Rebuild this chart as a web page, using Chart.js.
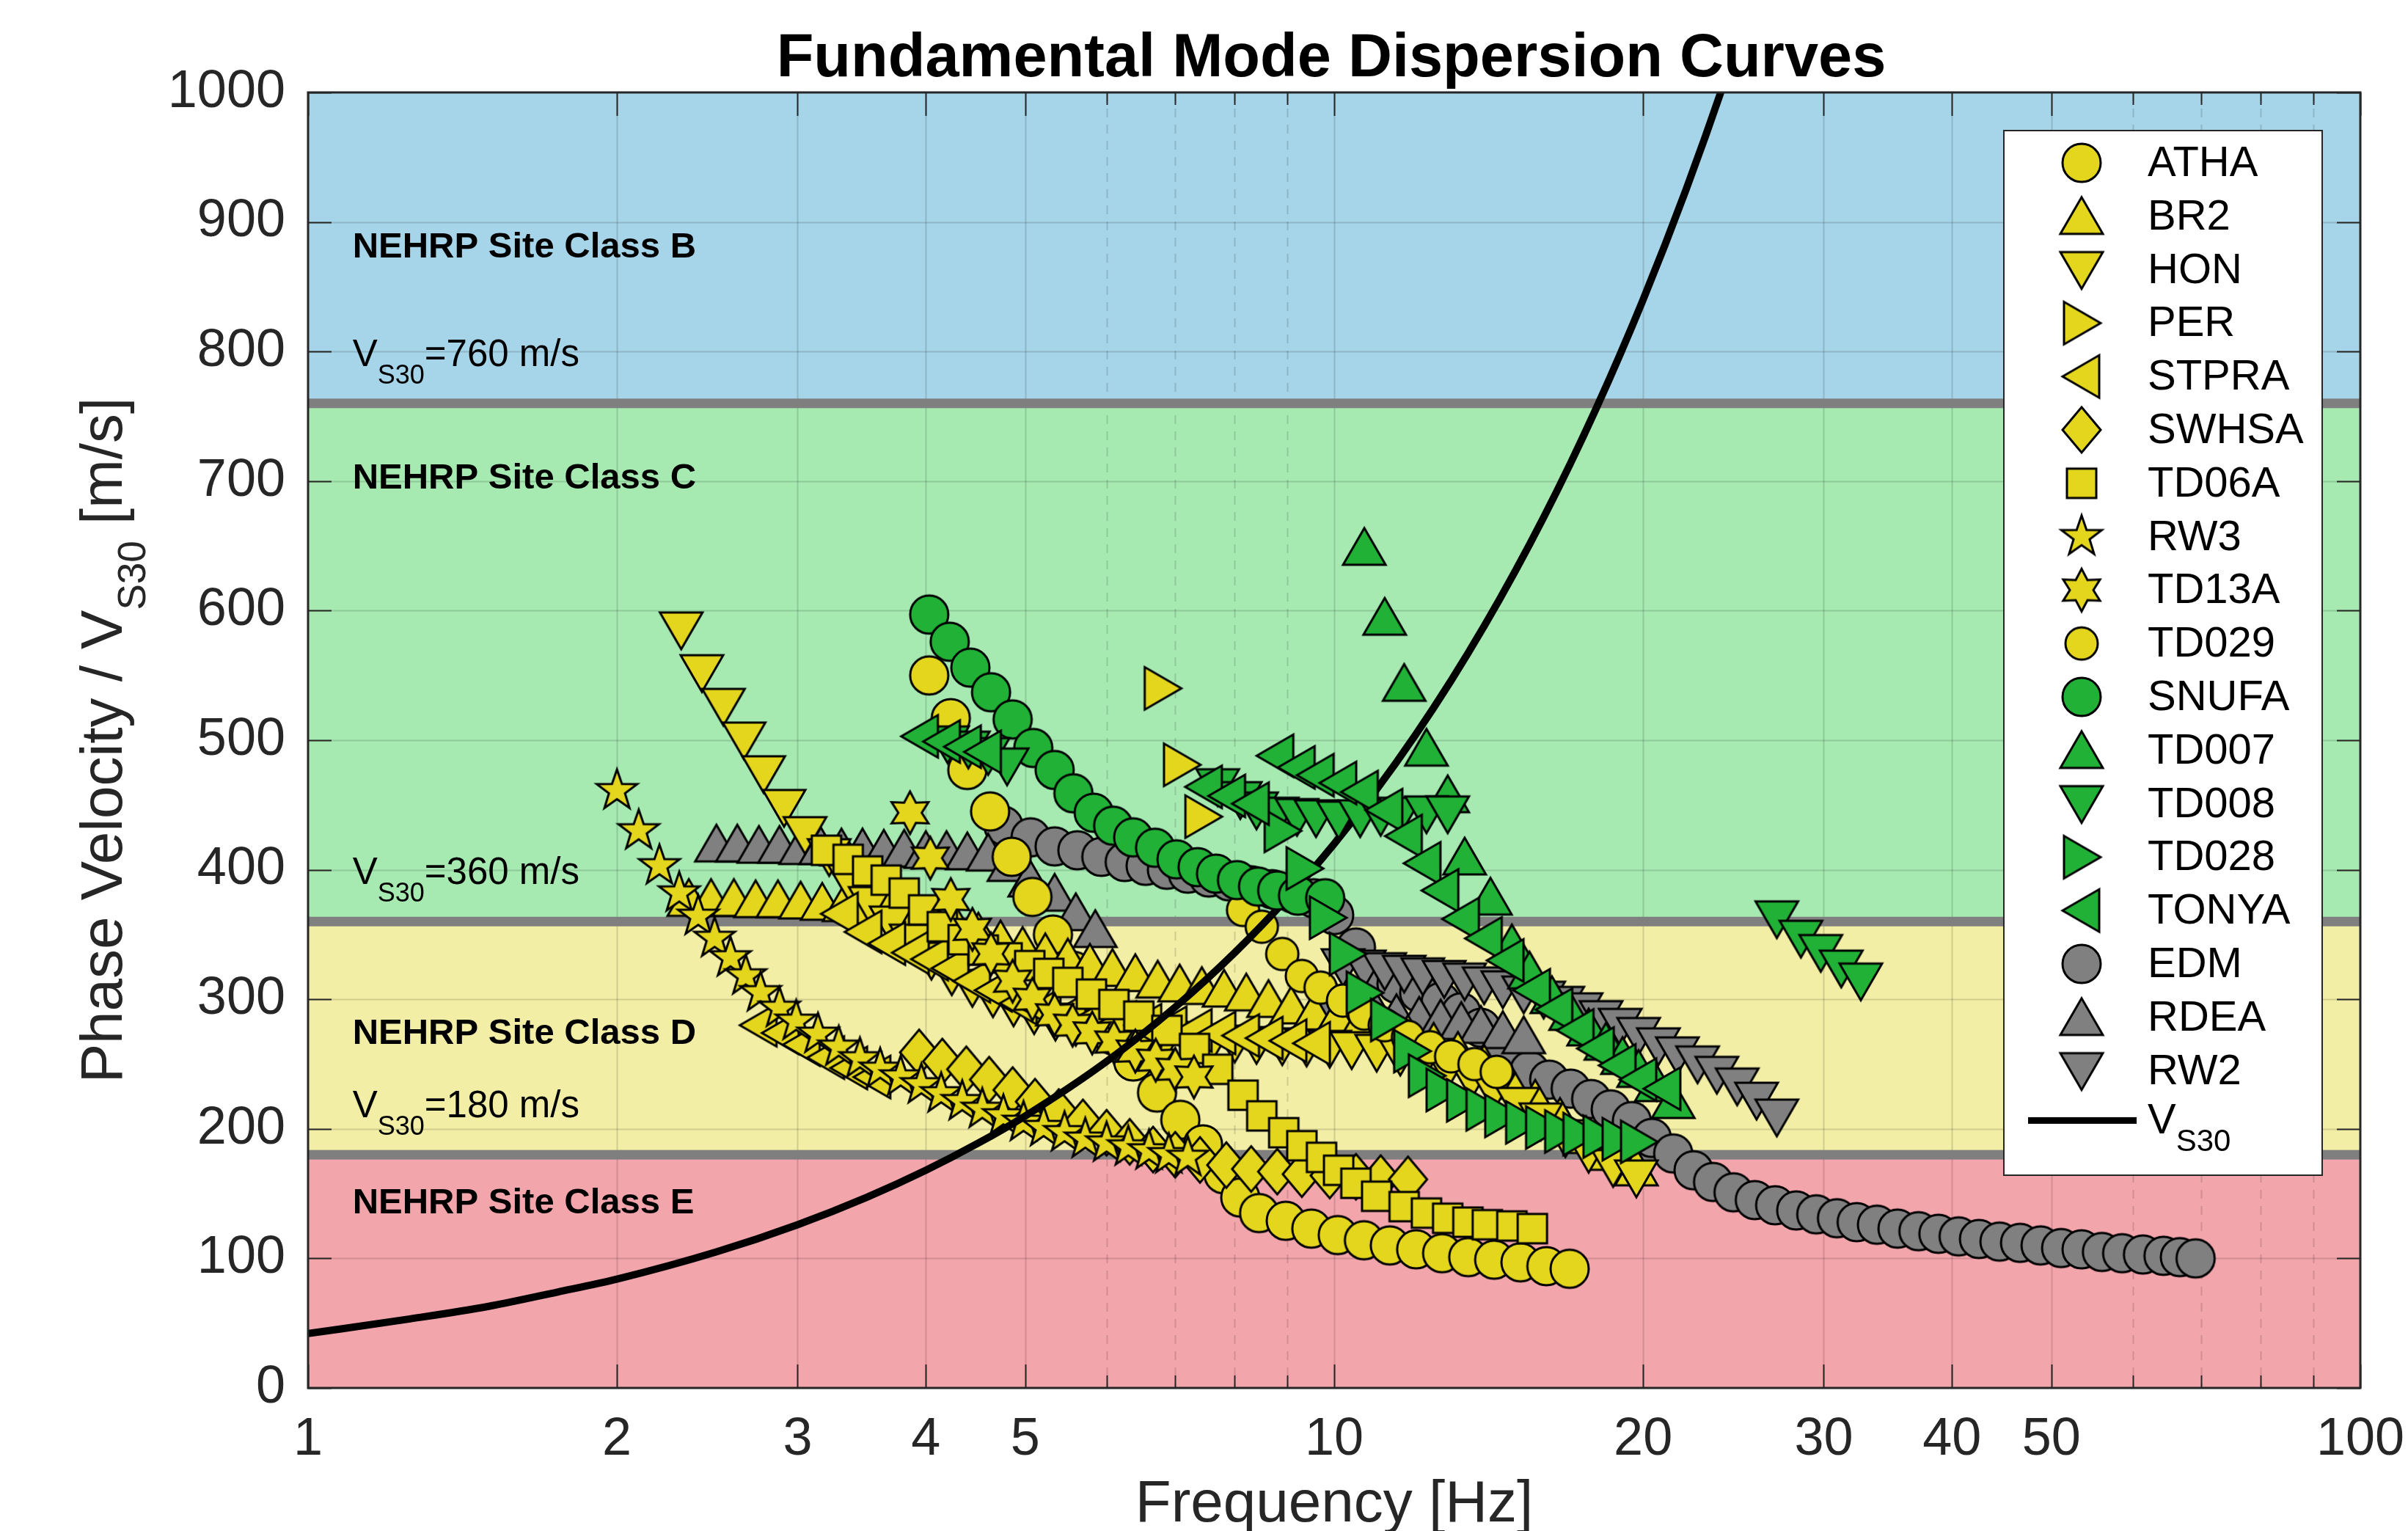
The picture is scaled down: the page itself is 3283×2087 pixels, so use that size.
<!DOCTYPE html>
<html>
<head>
<meta charset="utf-8">
<script src="https://cdn.jsdelivr.net/npm/chart.js@4.4.1/dist/chart.umd.min.js"></script>
<style>
html, body { margin: 0; padding: 0; background: #fff; }
</style>
</head>
<body>
<canvas id="chart" width="3283" height="2087"></canvas>
<script>
// axis ticks and site class limits
var freqTicks = [1, 2, 3, 4, 5, 10, 20, 30, 40, 50, 100];
var minorTicks = [6, 7, 8, 9, 60, 70, 80, 90];
var velTicks = [0, 100, 200, 300, 400, 500, 600, 700, 800, 900, 1000];
var classLimits = [180, 360, 760];
var classNames = ['NEHRP Site Class E', 'NEHRP Site Class D', 'NEHRP Site Class C', 'NEHRP Site Class B'];

// dispersion curves, frequency [Hz] / phase velocity [m/s]
var athaF = [4.03, 4.23, 4.39, 4.62, 4.85, 5.08, 5.32, 5.57, 5.83, 6.10, 6.37, 6.72, 7.08, 7.45, 7.80, 8.10, 8.45, 8.97, 9.50, 10.08, 10.69, 11.33, 12.02, 12.74, 13.51, 14.32, 15.19, 16.10, 16.96];
var athaV = [550, 517, 477, 445, 410, 379, 350, 322, 296, 272, 252, 228, 207, 188, 165, 147, 135, 129, 123, 118, 114, 110, 107, 104, 101, 99, 97, 94, 92];
var br2F = [2.35, 2.47, 2.6, 2.73, 2.87, 3.02, 3.17, 3.33, 3.5, 3.68, 3.87, 4.07, 4.28, 4.5, 4.73, 4.97, 5.23, 5.5, 5.78, 6.08, 6.4, 6.73, 7.07, 7.43, 7.81, 8.21, 8.63, 9.08, 9.55, 10.05, 10.6, 11.2, 11.8, 12.5, 13.2, 14.0, 14.8, 15.7, 16.6, 17.6, 18.6, 19.7];
var br2V = [378, 378, 378, 377, 377, 376, 375, 374, 372, 369, 366, 362, 357, 352, 346, 341, 336, 332, 328, 324, 320, 315, 312, 310, 308, 305, 300, 295, 290, 286, 282, 278, 273, 267, 260, 250, 237, 223, 209, 195, 182, 170];
var honF = [2.31, 2.42, 2.54, 2.66, 2.78, 2.91, 3.05, 3.22, 3.37, 3.53, 3.70, 3.87, 4.05, 4.24, 4.44, 4.65, 4.87, 5.10, 5.35, 5.60, 5.90, 6.20, 6.50, 6.85, 7.20, 7.60, 8.00, 8.40, 8.90, 9.40, 9.90, 10.4, 11.0, 11.6, 12.2, 12.9, 13.6, 14.3, 15.1, 15.9, 16.8, 17.7, 18.7, 19.7];
var honV = [585, 552, 526, 500, 474, 448, 427, 410, 390, 373, 358, 344, 330, 318, 309, 301, 294, 288, 283, 279, 276, 273, 271, 269, 268, 267, 266, 265, 264, 263, 262, 261, 259, 256, 252, 246, 238, 229, 218, 206, 193, 181, 170, 162];
var perF = [6.80, 7.10, 7.45];
var perV = [540, 481, 441];
var stpraF = [2.75, 2.89, 3.03, 3.20, 3.37, 3.55, 3.30, 3.48, 3.67, 3.87, 4.04, 4.23, 4.44, 4.66, 4.93, 5.20, 5.50, 5.82, 6.16, 6.52, 6.90, 7.30, 7.70, 8.12, 8.56, 9.03, 9.52];
var stpraV = [280, 274, 265, 255, 247, 240, 366, 352, 343, 336, 331, 324, 314, 307, 297, 292, 288, 285, 282, 280, 278, 276, 274, 272, 270, 268, 266];
var swhsaF = [3.94, 4.15, 4.38, 4.61, 4.86, 5.11, 5.39, 5.69, 6.00, 6.32, 6.66, 7.00, 7.40, 7.85, 8.30, 8.80, 9.30, 9.90, 10.5, 11.1, 11.8];
var swhsaV = [259, 252, 246, 238, 230, 221, 213, 205, 197, 190, 184, 180, 176, 172, 169, 167, 165, 164, 163, 162, 161];
var td06aF = [3.2, 3.36, 3.51, 3.66, 3.81, 3.98, 4.15, 4.35, 4.55, 4.8, 5.05, 5.27, 5.5, 5.8, 6.1, 6.45, 6.87, 7.31, 7.7, 8.15, 8.5, 8.93, 9.3, 9.72, 10.1, 10.5, 11.0, 11.7, 12.3, 12.9, 13.5, 14.1, 14.9, 15.6];
var td06aV = [415, 408, 399, 392, 382, 369, 356, 346, 338, 332, 326, 320, 313, 304, 296, 287, 276, 262, 246, 226, 210, 197, 187, 178, 168, 158, 148, 140, 135, 131, 128, 126, 125, 123];
var rw3F = [2.0, 2.1, 2.2, 2.3, 2.4, 2.49, 2.58, 2.67, 2.76, 2.88, 2.99, 3.14, 3.29, 3.45, 3.61, 3.78, 3.96, 4.14, 4.34, 4.54, 4.76, 4.98, 5.21, 5.46, 5.72, 6.0, 6.3, 6.6, 6.9, 7.2];
var rw3V = [461, 430, 403, 382, 364, 347, 332, 318, 305, 293, 283, 273, 263, 254, 246, 240, 234, 227, 221, 215, 210, 205, 201, 197, 192, 189, 186, 183, 180, 178];
var td13aF = [3.86, 4.04, 4.23, 4.44, 4.63, 4.86, 5.08, 5.34, 5.56, 5.81, 6.10, 6.40, 6.70, 7.00, 7.30];
var td13aV = [444, 409, 377, 354, 335, 314, 300, 288, 280, 274, 267, 260, 253, 246, 240];
var td029F = [8.15, 8.50, 8.90, 9.30, 9.70, 10.2, 10.7, 11.2, 11.8, 12.4, 13.0, 13.7, 14.4];
var td029V = [369, 356, 335, 318, 309, 299, 289, 280, 271, 263, 256, 250, 244];
var snufaF = [4.03, 4.22, 4.42, 4.63, 4.86, 5.09, 5.34, 5.57, 5.83, 6.09, 6.37, 6.69, 7.02, 7.36, 7.67, 8.04, 8.43, 8.80, 9.22, 9.80];
var snufaV = [597, 576, 556, 537, 516, 494, 477, 459, 444, 434, 425, 417, 408, 402, 397, 392, 387, 384, 380, 378];
var td007F = [10.7, 11.2, 11.7, 12.3, 12.9, 13.4, 14.2, 14.9, 15.5, 16.3, 17.0, 17.7, 18.4, 19.1, 19.8, 20.6, 21.4];
var td007V = [649, 595, 544, 494, 458, 410, 379, 343, 322, 303, 290, 278, 267, 256, 246, 235, 222];
var td008F = [4.20, 4.40, 4.60, 4.80, 7.70, 8.10, 8.40, 8.80, 9.20, 9.60, 10.1, 10.6, 11.1, 11.6, 12.3, 12.9, 27.0, 28.5, 29.8, 31.2, 32.6];
var td008V = [497, 493, 488, 480, 464, 454, 446, 442, 441, 440, 439, 440, 441, 442, 443, 443, 362, 347, 336, 324, 314];
var td028F = [8.90, 9.35, 9.85, 10.3, 10.7, 11.3, 11.9, 12.3, 12.8, 13.4, 14.0, 14.6, 15.3, 16.0, 16.7, 17.4, 18.2, 19.0, 19.8];
var td028V = [430, 401, 363, 335, 305, 284, 260, 241, 230, 222, 215, 210, 205, 201, 198, 196, 194, 192, 190];
var tonyaF = [3.95, 4.15, 4.35, 4.55, 7.47, 7.87, 8.30, 8.77, 9.20, 9.60, 10.1, 10.6, 11.2, 11.7, 12.2, 12.7, 13.3, 14.0, 14.7, 15.6, 16.4, 17.2, 18.0, 18.9, 19.8, 20.9];
var tonyaV = [503, 499, 495, 491, 464, 457, 451, 488, 479, 473, 467, 460, 446, 426, 405, 384, 362, 347, 330, 307, 292, 276, 262, 249, 238, 231];
var edmF = [4.76, 5.06, 5.34, 5.62, 5.93, 6.25, 6.55, 6.87, 7.20, 7.55, 7.90, 8.30, 8.70, 9.10, 9.55, 10.0, 10.5, 11.0, 11.5, 12.1, 12.7, 13.3, 13.9, 14.6, 15.5, 16.2, 17.0, 17.8, 18.6, 19.5, 20.4, 21.4, 22.4, 23.4, 24.5, 25.7, 26.9, 28.2, 29.5, 30.9, 32.3, 33.8, 35.4, 37.1, 38.8, 40.6, 42.5, 44.5, 46.6, 48.8, 51.1, 53.5, 56.0, 58.6, 61.4, 64.3, 66.7, 69.1];
var edmV = [434, 425, 418, 415, 410, 406, 403, 400, 397, 394, 391, 388, 385, 382, 378, 365, 340, 322, 312, 305, 298, 290, 278, 262, 245, 238, 231, 223, 215, 206, 193, 181, 168, 159, 151, 145, 141, 137, 134, 131, 128, 126, 123, 121, 119, 117, 115, 113, 112, 110, 108, 107, 105, 104, 103, 102, 101, 100];
var rdeaF = [2.50, 2.62, 2.75, 2.88, 3.02, 3.16, 3.31, 3.47, 3.64, 3.81, 4.00, 4.19, 4.39, 4.60, 4.82, 5.05, 5.34, 5.60, 5.85, 10.0, 10.5, 11.0, 11.5, 12.1, 12.7, 13.3, 13.9, 14.6, 15.3];
var rdeaV = [420, 420, 419, 419, 418, 418, 417, 417, 416, 416, 415, 415, 414, 413, 405, 393, 382, 367, 354, 300, 292, 290, 289, 287, 285, 283, 280, 276, 272];
var rw2F = [10.2, 10.7, 11.2, 11.7, 12.2, 12.8, 13.4, 14.0, 14.6, 15.3, 16.0, 16.7, 17.4, 18.2, 19.0, 19.8, 20.7, 21.6, 22.6, 23.6, 24.7, 25.8, 27.0];
var rw2V = [325, 324, 322, 320, 318, 316, 314, 311, 308, 304, 300, 296, 291, 285, 279, 272, 264, 257, 250, 242, 233, 222, 209];

// VS30 line
var vsF = [1, 1.25, 1.5, 1.75, 2, 2.5, 3, 3.5, 4, 4.5, 5, 6, 7, 8, 9, 10, 11, 12, 13, 14, 15, 16, 17, 18, 19, 20, 21, 22, 23, 24, 25];
var vsV = [42, 53, 63, 74, 84, 105, 126, 147, 168, 189, 210, 252, 294, 336, 378, 420, 462, 504, 546, 588, 630, 672, 714, 756, 798, 840, 882, 924, 966, 1008, 1050];

var FONT = '"Liberation Sans", Arial, Helvetica, sans-serif';
var YEL = '#e4d61d', GRN = '#20b136', GRY = '#808080';
var bandColors = ['#f3a5ac', '#f2eea6', '#a6eab2', '#a6d4e8'];

function makeMarker(shape, fill) {
	var c = document.createElement('canvas');
	c.width = 72; c.height = 72;
	var g = c.getContext('2d');
	g.translate(36, 36);
	g.beginPath();
	var pts = null, n, k, r, a;
	if (shape == 'o') g.arc(0, 0, 26, 0, Math.PI * 2);
	else if (shape == 'os') g.arc(0, 0, 22, 0, Math.PI * 2);
	else if (shape == 's') g.rect(-20, -20, 40, 40);
	else if (shape == 'd') pts = [[0, -31], [26, 0], [0, 31], [-26, 0]];
	else if (shape == '^') pts = [[0, -26], [29, 24], [-29, 24]];
	else if (shape == 'v') pts = [[0, 26], [29, -24], [-29, -24]];
	else if (shape == '>') pts = [[26, 0], [-24, -29], [-24, 29]];
	else if (shape == '<') pts = [[-26, 0], [24, -29], [24, 29]];
	else {
		// 5 or 6 point stars
		n = shape == 'p' ? 5 : 6;
		pts = [];
		for (k = 0; k < 2 * n; k++) {
			r = k % 2 ? (n == 5 ? 11.5 : 16) : 29;
			a = -Math.PI / 2 + k * Math.PI / n;
			pts.push([r * Math.cos(a), r * Math.sin(a)]);
		}
	}
	if (pts) {
		g.moveTo(pts[0][0], pts[0][1]);
		for (k = 1; k < pts.length; k++) g.lineTo(pts[k][0], pts[k][1]);
		g.closePath();
	}
	g.fillStyle = fill;
	g.fill();
	g.lineWidth = 3;
	g.strokeStyle = '#000';
	g.stroke();
	return c;
}

// grp: 3 yellow, 1 green (on top), 4 grey (bottom); later series sit above earlier ones
var series = [
	{name: 'ATHA', f: athaF, v: athaV, shape: 'o', fill: YEL, grp: 3},
	{name: 'BR2', f: br2F, v: br2V, shape: '^', fill: YEL, grp: 3},
	{name: 'HON', f: honF, v: honV, shape: 'v', fill: YEL, grp: 3},
	{name: 'PER', f: perF, v: perV, shape: '>', fill: YEL, grp: 3},
	{name: 'STPRA', f: stpraF, v: stpraV, shape: '<', fill: YEL, grp: 3},
	{name: 'SWHSA', f: swhsaF, v: swhsaV, shape: 'd', fill: YEL, grp: 3},
	{name: 'TD06A', f: td06aF, v: td06aV, shape: 's', fill: YEL, grp: 3},
	{name: 'RW3', f: rw3F, v: rw3V, shape: 'p', fill: YEL, grp: 3},
	{name: 'TD13A', f: td13aF, v: td13aV, shape: 'h', fill: YEL, grp: 3},
	{name: 'TD029', f: td029F, v: td029V, shape: 'os', fill: YEL, grp: 3},
	{name: 'SNUFA', f: snufaF, v: snufaV, shape: 'o', fill: GRN, grp: 1},
	{name: 'TD007', f: td007F, v: td007V, shape: '^', fill: GRN, grp: 1},
	{name: 'TD008', f: td008F, v: td008V, shape: 'v', fill: GRN, grp: 1},
	{name: 'TD028', f: td028F, v: td028V, shape: '>', fill: GRN, grp: 1},
	{name: 'TONYA', f: tonyaF, v: tonyaV, shape: '<', fill: GRN, grp: 1},
	{name: 'EDM', f: edmF, v: edmV, shape: 'o', fill: GRY, grp: 4},
	{name: 'RDEA', f: rdeaF, v: rdeaV, shape: '^', fill: GRY, grp: 4},
	{name: 'RW2', f: rw2F, v: rw2V, shape: 'v', fill: GRY, grp: 4}
];

var datasets = series.map(function (s, i) {
	s.img = makeMarker(s.shape, s.fill);
	return {
		label: s.name,
		data: s.f.map(function (f, j) { return {x: f, y: s.v[j]}; }),
		pointStyle: s.img,
		pointRadius: 26,
		pointHoverRadius: 26,
		order: s.grp + (20 - i) * 0.01
	};
});
datasets.push({
	type: 'line',
	label: 'VS30',
	data: vsF.map(function (f, i) { return {x: f, y: vsV[i]}; }),
	showLine: true,
	borderColor: '#000',
	borderWidth: 10,
	pointRadius: 0,
	cubicInterpolationMode: 'monotone',
	clip: 0,
	order: 2
});

// text with a subscript, left aligned on an alphabetic baseline
function subText(ctx, x, y, main, sub, rest, size, subSize, drop, weight) {
	ctx.textAlign = 'left';
	ctx.textBaseline = 'alphabetic';
	ctx.font = (weight || '') + ' ' + size + 'px ' + FONT;
	ctx.fillText(main, x, y);
	x += ctx.measureText(main).width;
	ctx.font = subSize + 'px ' + FONT;
	ctx.fillText(sub, x, y + drop);
	x += ctx.measureText(sub).width;
	ctx.font = size + 'px ' + FONT;
	if (rest) ctx.fillText(rest, x, y);
}

function subWidth(ctx, main, sub, rest, size, subSize) {
	ctx.font = size + 'px ' + FONT;
	var w = ctx.measureText(main + rest).width;
	ctx.font = subSize + 'px ' + FONT;
	return w + ctx.measureText(sub).width;
}

var frame = {
	id: 'frame',
	beforeDatasetsDraw: function (chart) {
		var ctx = chart.ctx, a = chart.chartArea, xs = chart.scales.x, ys = chart.scales.y;
		var edges = [0].concat(classLimits, [1000]);
		ctx.save();
		for (var i = 0; i < 4; i++) {
			var y0 = ys.getPixelForValue(edges[i]), y1 = ys.getPixelForValue(edges[i + 1]);
			ctx.fillStyle = bandColors[i];
			ctx.fillRect(a.left, y1, a.right - a.left, y0 - y1);
		}
		// grid
		ctx.strokeStyle = 'rgba(0,0,0,0.14)';
		ctx.lineWidth = 2;
		freqTicks.concat(minorTicks).forEach(function (f) {
			if (f == 1 || f == 100) return;
			var px = Math.round(xs.getPixelForValue(f)) + 0.5;
			ctx.setLineDash(minorTicks.indexOf(f) >= 0 ? [12, 10] : []);
			ctx.beginPath(); ctx.moveTo(px, a.top); ctx.lineTo(px, a.bottom); ctx.stroke();
		});
		ctx.setLineDash([]);
		velTicks.forEach(function (v) {
			if (v == 0 || v == 1000) return;
			var py = Math.round(ys.getPixelForValue(v)) + 0.5;
			ctx.beginPath(); ctx.moveTo(a.left, py); ctx.lineTo(a.right, py); ctx.stroke();
		});
		// class boundaries
		ctx.fillStyle = '#7f7f7f';
		classLimits.forEach(function (v) {
			ctx.fillRect(a.left, ys.getPixelForValue(v) - 6.5, a.right - a.left, 13);
		});
		// class labels
		var lx = xs.getPixelForValue(1.105);
		ctx.fillStyle = '#000';
		ctx.textAlign = 'left';
		ctx.textBaseline = 'middle';
		ctx.font = 'bold 49px ' + FONT;
		[142.7, 273.5, 702, 880.5].forEach(function (v, i) {
			ctx.fillText(classNames[i], lx, ys.getPixelForValue(v));
		});
		classLimits.forEach(function (v) {
			subText(ctx, lx, ys.getPixelForValue(v + 29), 'V', 'S30', '=' + v + ' m/s', 51, 36, 24);
		});
		ctx.restore();
	},
	afterDatasetsDraw: function (chart) {
		var ctx = chart.ctx, a = chart.chartArea, xs = chart.scales.x, ys = chart.scales.y;
		ctx.save();
		// axes box with inward ticks
		ctx.strokeStyle = '#262626';
		ctx.lineWidth = 2;
		ctx.beginPath();
		freqTicks.concat(minorTicks).forEach(function (f) {
			var px = Math.round(xs.getPixelForValue(f)) + 0.5;
			var len = minorTicks.indexOf(f) >= 0 ? 17 : 32;
			ctx.moveTo(px, a.bottom); ctx.lineTo(px, a.bottom - len);
			ctx.moveTo(px, a.top); ctx.lineTo(px, a.top + len);
		});
		velTicks.forEach(function (v) {
			var py = Math.round(ys.getPixelForValue(v)) + 0.5;
			ctx.moveTo(a.left, py); ctx.lineTo(a.left + 32, py);
			ctx.moveTo(a.right, py); ctx.lineTo(a.right - 32, py);
		});
		ctx.stroke();
		ctx.lineWidth = 3;
		ctx.strokeRect(a.left, a.top, a.right - a.left, a.bottom - a.top);

		// legend
		var bx = 2732, by = 178, bw = 434, bh = 1424, rowH = 72.8;
		ctx.fillStyle = '#fff';
		ctx.fillRect(bx, by, bw, bh);
		ctx.lineWidth = 2;
		ctx.strokeStyle = '#262626';
		ctx.strokeRect(bx, by, bw, bh);
		ctx.fillStyle = '#000';
		ctx.textAlign = 'left';
		ctx.textBaseline = 'middle';
		series.forEach(function (s, i) {
			var cy = by + 44 + i * rowH;
			ctx.drawImage(s.img, 2838 - s.img.width / 2, cy - s.img.height / 2);
			ctx.font = '58px ' + FONT;
			ctx.fillText(s.name, 2928, cy + 2);
		});
		var ly = by + 44 + 18 * rowH - 5;
		ctx.fillStyle = '#000';
		ctx.fillRect(2765, ly - 4.5, 148, 9);
		subText(ctx, 2928, ly + 18, 'V', 'S30', '', 58, 42, 24);

		// title and axis titles
		ctx.fillStyle = '#000';
		ctx.textAlign = 'center';
		ctx.textBaseline = 'alphabetic';
		ctx.font = 'bold 83px ' + FONT;
		ctx.fillText('Fundamental Mode Dispersion Curves', (a.left + a.right) / 2 - 4, 104);
		ctx.fillStyle = '#262626';
		ctx.font = '80px ' + FONT;
		ctx.fillText('Frequency [Hz]', (a.left + a.right) / 2, 2074);

		ctx.translate(166, (a.top + a.bottom) / 2);
		ctx.rotate(-Math.PI / 2);
		var w = subWidth(ctx, 'Phase Velocity / V', 'S30', ' [m/s]', 80, 53);
		subText(ctx, -w / 2, 0, 'Phase Velocity / V', 'S30', ' [m/s]', 80, 53, 32);
		ctx.restore();
	}
};

new Chart(document.getElementById('chart'), {
	type: 'scatter',
	data: {datasets: datasets},
	options: {
		responsive: false,
		animation: false,
		devicePixelRatio: 1,
		layout: {padding: {left: 0, right: 65, top: 126, bottom: 0}},
		plugins: {legend: {display: false}, tooltip: {enabled: false}},
		scales: {
			x: {
				type: 'logarithmic',
				min: 1,
				max: 100,
				afterBuildTicks: function (axis) {
					axis.ticks = freqTicks.map(function (v) { return {value: v}; });
				},
				afterFit: function (axis) {
					axis.height = 195;
					axis.paddingLeft = 0;
					axis.paddingRight = 0;
				},
				grid: {display: false, drawTicks: false},
				border: {display: false},
				ticks: {
					autoSkip: false,
					maxRotation: 0,
					padding: 28,
					color: '#262626',
					font: {family: FONT, size: 72},
					callback: function (v) { return String(v); }
				}
			},
			y: {
				min: 0,
				max: 1000,
				afterBuildTicks: function (axis) {
					axis.ticks = velTicks.map(function (v) { return {value: v}; });
				},
				afterFit: function (axis) {
					axis.width = 420;
					axis.paddingTop = 0;
					axis.paddingBottom = 0;
				},
				grid: {display: false, drawTicks: false},
				border: {display: false},
				ticks: {
					padding: 31,
					color: '#262626',
					font: {family: FONT, size: 72},
					callback: function (v) { return String(v); }
				}
			}
		}
	},
	plugins: [frame]
});
</script>
</body>
</html>
